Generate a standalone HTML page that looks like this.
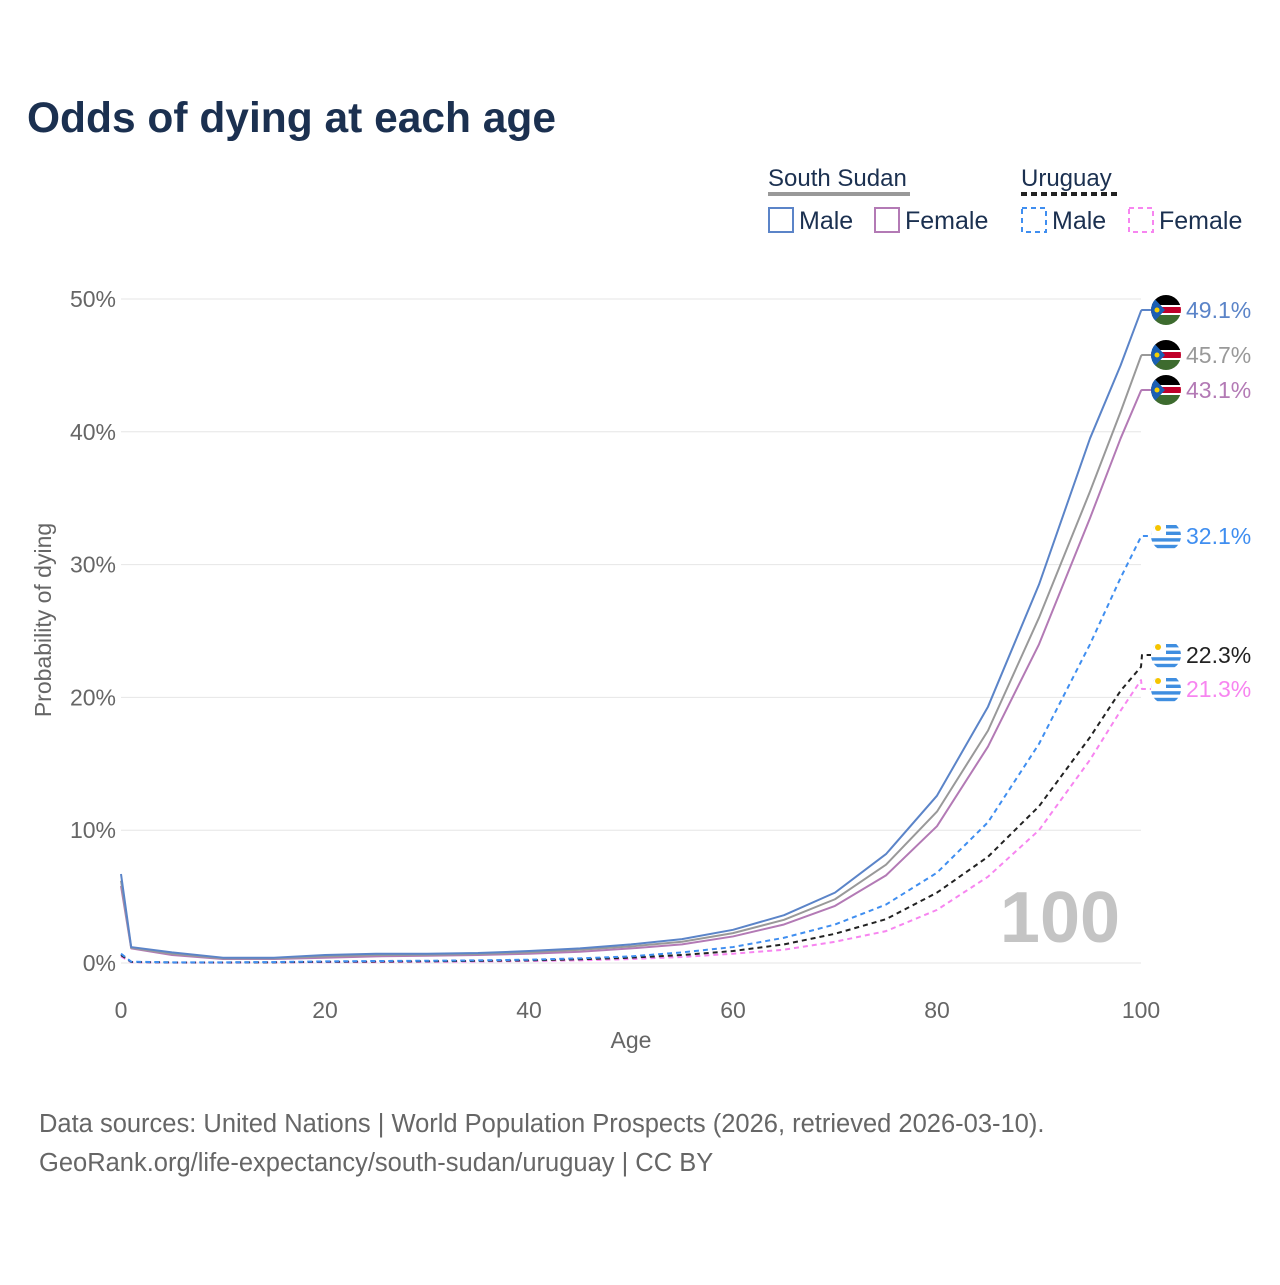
<!DOCTYPE html>
<html><head><meta charset="utf-8"><style>
body{margin:0;background:#fff;font-family:"Liberation Sans",sans-serif}
svg text{font-family:"Liberation Sans",sans-serif}
</style></head><body>
<svg id="svg" width="1280" height="1280" viewBox="0 0 1280 1280" xmlns="http://www.w3.org/2000/svg">
<defs id="defs"></defs>
<text x="27" y="132" font-size="42.5" font-weight="bold" fill="#1b3050">Odds of dying at each age</text>
<g>
<text x="768" y="186" font-size="24" fill="#1b3050">South Sudan</text>
<rect x="768" y="192" width="142" height="4" fill="#999"/>
<rect x="769" y="208" width="24" height="24" fill="none" stroke="#5b84c8" stroke-width="2"/>
<text x="799" y="229" font-size="25" fill="#1b3050">Male</text>
<rect x="875" y="208" width="24" height="24" fill="none" stroke="#b37ab5" stroke-width="2"/>
<text x="905" y="229" font-size="25" fill="#1b3050">Female</text>
<text x="1021" y="186" font-size="24" fill="#1b3050">Uruguay</text>
<line x1="1021" y1="194" x2="1119" y2="194" stroke="#222" stroke-width="4" stroke-dasharray="6,4"/>
<rect x="1022" y="208" width="24" height="24" fill="none" stroke="#3f8ef0" stroke-width="2" stroke-dasharray="5,4"/>
<text x="1052" y="229" font-size="25" fill="#1b3050">Male</text>
<rect x="1129" y="208" width="24" height="24" fill="none" stroke="#f785f0" stroke-width="2" stroke-dasharray="5,4"/>
<text x="1159" y="229" font-size="25" fill="#1b3050">Female</text>
</g>
<g id="grid"></g>
<g id="axes"></g>
<text x="1060" y="942" font-size="72" font-weight="bold" fill="#c4c4c4" text-anchor="middle">100</text>
<g id="lines"></g>
<g id="ends"></g>
<text x="631" y="1048" font-size="23" fill="#666" text-anchor="middle">Age</text>
<text transform="translate(51,620) rotate(-90)" font-size="23" fill="#666" text-anchor="middle">Probability of dying</text>
<text x="39" y="1132" font-size="25.5" fill="#666">Data sources: United Nations | World Population Prospects (2026, retrieved 2026-03-10).</text>
<text x="39" y="1171" font-size="25.5" fill="#666">GeoRank.org/life-expectancy/south-sudan/uruguay | CC BY</text>
</svg>
<script>
const ages=[0,1,5,10,15,20,25,30,35,40,45,50,55,60,65,70,75,80,85,90,95,98,100];
const ssMale=[6.7,1.2,0.8,0.4,0.4,0.6,0.7,0.7,0.75,0.9,1.1,1.4,1.8,2.5,3.6,5.3,8.2,12.6,19.3,28.5,39.5,45,49.1];
const ssBoth=[6.2,1.15,0.7,0.35,0.35,0.5,0.6,0.62,0.68,0.8,1.0,1.25,1.6,2.25,3.25,4.8,7.4,11.4,17.5,26,35.5,41.5,45.7];
const ssFemale=[5.8,1.1,0.6,0.3,0.3,0.4,0.5,0.55,0.6,0.7,0.85,1.1,1.4,2.0,2.9,4.3,6.6,10.3,16.3,24,33.5,39.5,43.1];
const uyMale=[0.7,0.1,0.05,0.05,0.07,0.12,0.15,0.17,0.2,0.25,0.35,0.5,0.8,1.2,1.9,2.9,4.4,6.8,10.6,16.5,24,29,32.1];
const uyBoth=[0.6,0.08,0.04,0.04,0.05,0.09,0.11,0.13,0.16,0.2,0.28,0.4,0.6,0.9,1.4,2.2,3.3,5.3,8.0,11.8,17,20.5,22.3];
const uyFemale=[0.5,0.06,0.03,0.03,0.04,0.06,0.07,0.09,0.11,0.15,0.2,0.3,0.45,0.7,1.0,1.6,2.4,4.0,6.5,10,15.3,19,21.3];
const yTicks=[0,10,20,30,40,50];
const xTicks=[0,20,40,60,80,100];
const endLabels=["49.1%","45.7%","43.1%","32.1%","22.3%","21.3%"];
const NS="http://www.w3.org/2000/svg";
const X=a=>121+a*10.2, Y=v=>963-v*13.28;
function mk(t,at,p){const e=document.createElementNS(NS,t);for(const k in at)e.setAttribute(k,at[k]);(typeof p==='string'?document.getElementById(p):p).appendChild(e);return e;}
yTicks.forEach(v=>{
 const l=mk('line',{x1:121,x2:1141,y1:Y(v),y2:Y(v),stroke:'#e6e6e6','stroke-width':1},'grid');
 
 
 const t=mk('text',{x:116,y:Y(v)+8,'font-size':23,fill:'#666','text-anchor':'end'},'axes');t.textContent=v+'%';
 
 
});
xTicks.forEach(v=>{
 const t=mk('text',{x:X(v),y:1018,'font-size':23,fill:'#666','text-anchor':'middle'},'axes');t.textContent=v;
 
 
});
const series=[
 {d:ssMale,c:'#5b84c8',dash:'',n:'ss-male',f:'ss',ly:310},
 {d:ssBoth,c:'#999',dash:'',n:'ss-both',f:'ss',ly:355},
 {d:ssFemale,c:'#b37ab5',dash:'',n:'ss-female',f:'ss',ly:390},
 {d:uyMale,c:'#3f8ef0',dash:'5,4',n:'uy-male',f:'uy',ly:536},
 {d:uyBoth,c:'#222',dash:'5,4',n:'uy-both',f:'uy',ly:655},
 {d:uyFemale,c:'#f785f0',dash:'5,4',n:'uy-female',f:'uy',ly:689}
];
series.slice().reverse().forEach(s=>{
 let pts=ages.map((a,i)=>X(a)+','+Y(s.d[i]));
 pts.push((X(100)+1)+','+s.ly);
 pts.push((X(100)+10)+','+s.ly);
 const p=mk('polyline',{points:pts.join(' '),fill:'none',stroke:s.c,'stroke-width':2,'stroke-dasharray':s.dash,'stroke-linejoin':'round'},'lines');
 
 
});
function flag(type,cx,cy,i){
 const id='fc'+i;
 const cp=mk('clipPath',{id:id},'defs');
 mk('circle',{cx:cx,cy:cy,r:15},cp);
 const g=mk('g',{'clip-path':'url(#'+id+')'},'ends');
 const R=(x,y,w,h,f)=>mk('rect',{x:cx+x,y:cy+y,width:w,height:h,fill:f},g);
 if(type==='ss'){
  R(-15,-15,30,10,'#000');R(-15,-5,30,10,'#fff');R(-15,-3,30,6,'#c0002a');R(-15,5,30,10,'#3d6b2e');
  mk('polygon',{points:`${cx-15},${cy-15} ${cx-1},${cy} ${cx-15},${cy+15}`,fill:'#1a5fb4'},g);
  mk('circle',{cx:cx-9,cy:cy,r:2.5,fill:'#f5d000'},g);
 } else {
  R(-15,-15,30,30,'#fff');
  [-11,-4.4,2.2,8.8].forEach(y=>R(-15,y,30,3.4,'#3f8ee0'));
  R(-15,-15,15,15,'#fff');
  mk('circle',{cx:cx-8,cy:cy-8,r:3,fill:'#f5c400'},g);
 }
 return g;
}
series.forEach((s,i)=>{
 const g=flag(s.f,1166,s.ly,i);
 
 
 const t=mk('text',{x:1186,y:s.ly+8,'font-size':23,fill:s.c},'ends');t.textContent=endLabels[i];
 
 
});
</script>
</body></html>
